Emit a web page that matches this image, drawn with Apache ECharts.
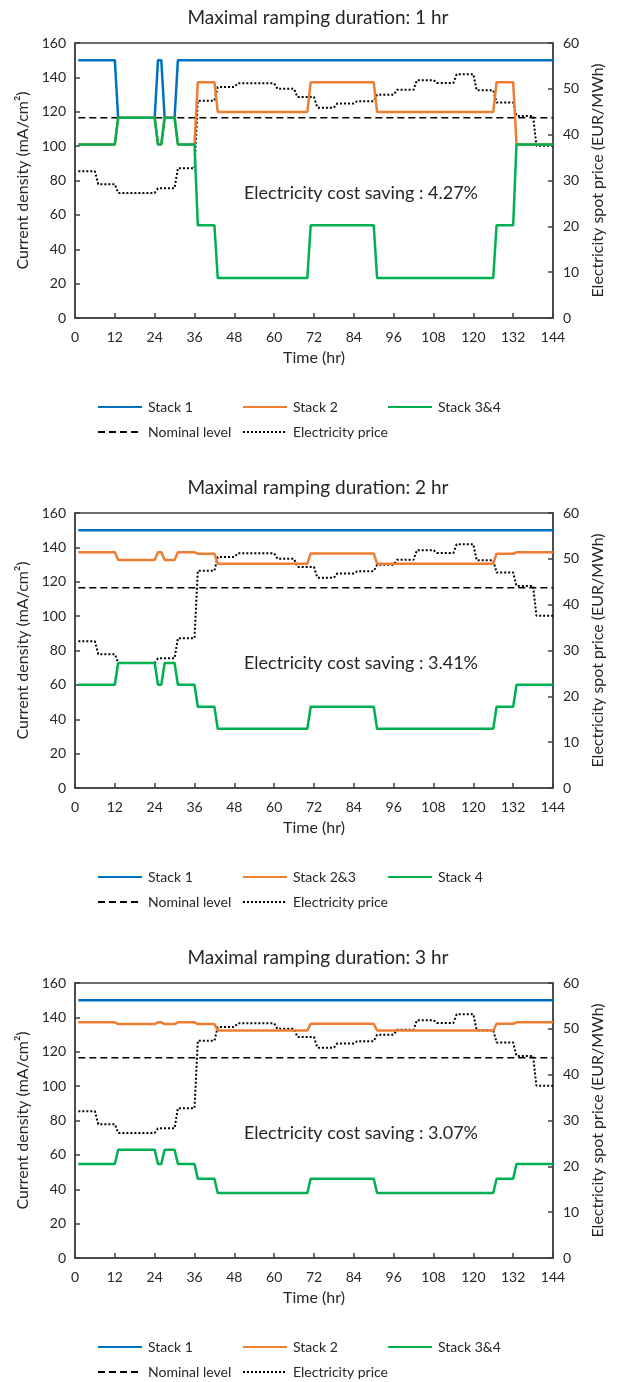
<!DOCTYPE html>
<html>
<head>
<meta charset="utf-8">
<script src="https://cdn.jsdelivr.net/npm/echarts@6/dist/echarts.min.js"></script>
<style>
  html, body { margin: 0; padding: 0; background: #fff; }
  .panel { position: absolute; left: 0; width: 624px; }
</style>
</head>
<body>
<div id="p1" class="panel" style="top:0;height:470px"></div>
<div id="p2" class="panel" style="top:470px;height:470px"></div>
<div id="p3" class="panel" style="top:940px;height:442px"></div>
<script>
// runs are [fromHour, toHour, value]; the line ramps over one hour between runs
const priceRuns = [
  [1, 6, 32.0], [7, 12, 29.2], [13, 24, 27.3], [25, 30, 28.3], [31, 36, 32.7],
  [37, 42, 47.4], [43, 48, 50.4], [49, 60, 51.2], [61, 66, 50.0], [67, 72, 48.2],
  [73, 78, 45.9], [79, 84, 46.8], [85, 90, 47.3], [91, 96, 48.7], [97, 102, 49.8],
  [103, 108, 51.9], [109, 114, 51.3], [115, 120, 53.2], [121, 126, 49.7],
  [127, 132, 47.0], [133, 138, 44.1], [139, 144, 37.6]
];
const nominalRuns = [[1, 144, 116.5]];

// 1 hr ramping
const stack1_1h = [[1, 12, 150], [13, 24, 116.5], [25, 26, 150], [27, 30, 116.5], [31, 144, 150]];
const stack2_1h = [[1, 12, 101], [13, 24, 116.5], [25, 26, 101], [27, 30, 116.5], [31, 36, 101],
  [37, 42, 137.2], [43, 70, 119.9], [71, 90, 137.2], [91, 126, 119.9], [127, 132, 137.2], [133, 144, 101]];
const stack34_1h = [[1, 12, 101], [13, 24, 116.5], [25, 26, 101], [27, 30, 116.5], [31, 36, 101],
  [37, 42, 53.9], [43, 70, 23.3], [71, 90, 53.9], [91, 126, 23.3], [127, 132, 53.9], [133, 144, 101]];

// 2 hr ramping
const stack1_2h = [[1, 144, 150]];
const stack23_2h = [[1, 12, 137.1], [13, 24, 132.7], [25, 26, 137.1], [27, 30, 132.7], [31, 36, 137.1],
  [37, 42, 136.3], [43, 70, 130.5], [71, 90, 136.5], [91, 126, 130.5], [127, 132, 136.3], [133, 144, 137.1]];
const stack4_2h = [[1, 12, 60.1], [13, 24, 72.7], [25, 26, 60.1], [27, 30, 72.7], [31, 36, 60.1],
  [37, 42, 47.3], [43, 70, 34.5], [71, 90, 47.3], [91, 126, 34.5], [127, 132, 47.3], [133, 144, 60.1]];

// 3 hr ramping
const stack1_3h = [[1, 144, 150]];
const stack2_3h = [[1, 12, 137.1], [13, 24, 136.1], [25, 26, 137.1], [27, 30, 136.1], [31, 36, 137.1],
  [37, 42, 136.1], [43, 70, 132.4], [71, 90, 136.3], [91, 126, 132.4], [127, 132, 136.3], [133, 144, 137.1]];
const stack34_3h = [[1, 12, 54.7], [13, 24, 63.0], [25, 26, 54.7], [27, 30, 63.0], [31, 36, 54.7],
  [37, 42, 46.1], [43, 70, 37.8], [71, 90, 46.1], [91, 126, 37.8], [127, 132, 46.1], [133, 144, 54.7]];

const panels = [
  { id: 'p1', title: 'Maximal ramping duration: 1 hr', saving: 'Electricity cost saving : 4.27%',
    names: ['Stack 1', 'Stack 2', 'Stack 3&4'], runs: [stack1_1h, stack2_1h, stack34_1h] },
  { id: 'p2', title: 'Maximal ramping duration: 2 hr', saving: 'Electricity cost saving : 3.41%',
    names: ['Stack 1', 'Stack 2&3', 'Stack 4'], runs: [stack1_2h, stack23_2h, stack4_2h] },
  { id: 'p3', title: 'Maximal ramping duration: 3 hr', saving: 'Electricity cost saving : 3.07%',
    names: ['Stack 1', 'Stack 2', 'Stack 3&4'], runs: [stack1_3h, stack2_3h, stack34_3h] }
];

const COLORS = ['#0070C0', '#ED7D31', '#00B050'];
const FONT = 'Lato, "Open Sans", sans-serif';
const TEXT = '#262626';
const AXIS = '#404040';

function steps(runs) {
  return runs.flatMap(([a, b, v]) => a === b ? [[a, v]] : [[a, v], [b, v]]);
}

function legendAt(name, left, top) {
  return {
    data: [name], left: left, top: top, selectedMode: false, padding: 0,
    itemWidth: 44, itemHeight: 14, itemGap: 0,
    itemStyle: { opacity: 0 },
    textStyle: { fontFamily: FONT, fontSize: 14, color: TEXT, padding: [0, 0, 0, 1] }
  };
}

function drawPanel(p) {
  const chart = echarts.init(document.getElementById(p.id), null, { renderer: 'canvas' });
  const axisLine = { show: true, lineStyle: { color: AXIS, width: 1.5 } };
  const axisTick = { show: true, inside: true, length: 5, lineStyle: { color: AXIS, width: 1.5 } };
  const label = { fontFamily: FONT, fontSize: 14, color: TEXT };
  const axisName = { fontFamily: FONT, fontSize: 16, color: TEXT };

  const stackSeries = p.names.map((name, i) => ({
    name: name, type: 'line', yAxisIndex: 0, z: 3,
    data: steps(p.runs[i]),
    symbol: 'none', showSymbol: false,
    lineStyle: { color: COLORS[i], width: 2.5 },
    itemStyle: { color: COLORS[i] }
  }));

  chart.setOption({
    animation: false,
    backgroundColor: '#fff',
    title: {
      text: p.title, left: 313, textAlign: 'center', top: 3,
      textStyle: { fontFamily: FONT, fontSize: 19, fontWeight: 'normal', color: TEXT }
    },
    grid: { left: 75, right: 71, top: 43, height: 275, show: true, borderColor: AXIS, borderWidth: 1.5 },
    xAxis: {
      type: 'value', min: 0, max: 144, interval: 12,
      name: 'Time (hr)', nameLocation: 'middle', nameGap: 32,
      nameTextStyle: axisName,
      axisLine: axisLine, axisTick: axisTick, splitLine: { show: false },
      axisLabel: Object.assign({ margin: 12 }, label)
    },
    yAxis: [
      {
        type: 'value', min: 0, max: 160, interval: 20, position: 'left',
        name: 'Current density (mA/cm²)', nameLocation: 'middle', nameGap: 42, nameRotate: 90,
        nameTextStyle: axisName,
        axisLine: axisLine, axisTick: axisTick, splitLine: { show: false },
        axisLabel: Object.assign({ margin: 9 }, label)
      },
      {
        type: 'value', min: 0, max: 60, interval: 10, position: 'right',
        name: 'Electricity spot price (EUR/MWh)', nameLocation: 'middle', nameGap: 36, nameRotate: 90,
        nameTextStyle: axisName,
        axisLine: axisLine, axisTick: axisTick, splitLine: { show: false },
        axisLabel: Object.assign({ margin: 10 }, label)
      }
    ],
    legend: [
      legendAt(p.names[0], 97, 400),
      legendAt(p.names[1], 242, 400),
      legendAt(p.names[2], 387, 400),
      legendAt('Nominal level', 97, 425),
      legendAt('Electricity price', 242, 425)
    ],
    graphic: [{
      type: 'text', x: 361, y: 193,
      style: {
        text: p.saving, align: 'center', verticalAlign: 'middle',
        font: '18px ' + FONT, fill: TEXT
      }
    }],
    series: [
      {
        name: 'Nominal level', type: 'line', yAxisIndex: 0, z: 2,
        data: steps(nominalRuns), symbol: 'none', showSymbol: false,
        lineStyle: { color: '#000', width: 1.5, type: [7, 4] },
        itemStyle: { color: '#000' }
      },
      {
        name: 'Electricity price', type: 'line', yAxisIndex: 1, z: 2,
        data: steps(priceRuns), symbol: 'none', showSymbol: false,
        lineStyle: { color: '#000', width: 2, type: [2, 2] },
        itemStyle: { color: '#000' }
      }
    ].concat(stackSeries)
  });
  return chart;
}

panels.forEach(drawPanel);
</script>
</body>
</html>
